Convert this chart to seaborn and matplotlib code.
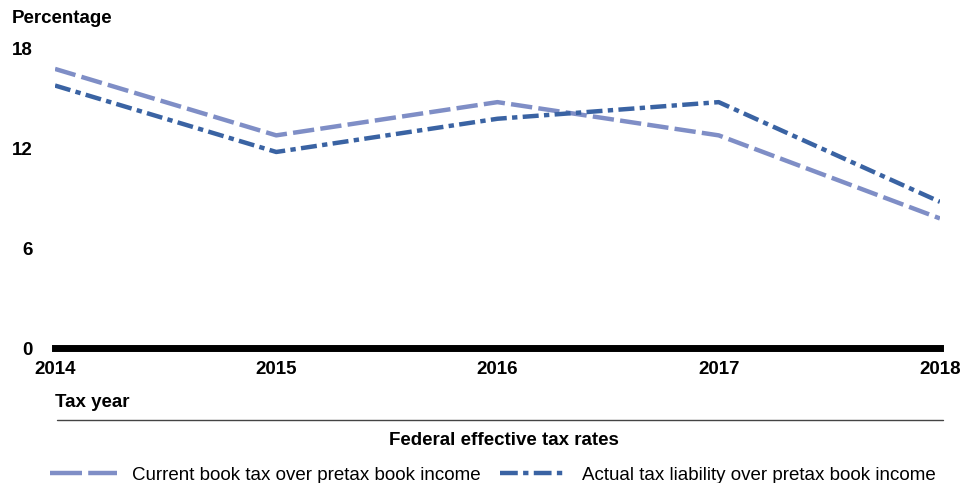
import numpy as np
import pandas as pd
import matplotlib
matplotlib.use('Agg')
import matplotlib.pyplot as plt
import seaborn as sns
from matplotlib.lines import Line2D

years = [2014, 2015, 2016, 2017, 2018]
current_book = [16.8, 12.8, 14.8, 12.8, 7.8]
actual_liability = [15.8, 11.8, 13.8, 14.8, 8.8]
series_names = ['Current book tax over pretax book income',
                'Actual tax liability over pretax book income']

df = pd.DataFrame({
    'year': years * 2,
    'rate': current_book + actual_liability,
    'series': [series_names[0]] * 5 + [series_names[1]] * 5,
})

sns.set_theme(style='white')
plt.rcParams['font.family'] = ['Liberation Sans', 'DejaVu Sans']
plt.rcParams['text.color'] = 'black'
plt.rcParams['xtick.color'] = 'black'
plt.rcParams['ytick.color'] = 'black'

colors = {series_names[0]: '#7f8ec6', series_names[1]: '#3a63a3'}
dashes = {series_names[0]: (4.8, 1.4), series_names[1]: (3.6, 1.2, 1.2, 1.2)}
leg_dashes = {series_names[0]: (7.2, 1.4), series_names[1]: (4.0, 1.2, 1.2, 1.2)}

fig = plt.figure(figsize=(9.72, 4.83), dpi=100)
ax = fig.add_axes([0.0566, 0.2795, 0.9104, 0.6191])
sns.lineplot(data=df, x='year', y='rate', hue='series', style='series',
             palette=colors, dashes=dashes, linewidth=3.2, legend=False, ax=ax)

ax.set_xlim(2014, 2018)
ax.set_ylim(0, 18)
ax.set_xticks(years)
ax.set_yticks([0, 6, 12, 18])
ax.set_xlabel('')
ax.set_ylabel('')
for s in ['top', 'right', 'left']:
    ax.spines[s].set_visible(False)
ax.spines['bottom'].set_linewidth(5)
ax.spines['bottom'].set_color('black')
ax.tick_params(axis='both', length=0, labelsize=13.5, labelcolor='black')
ax.tick_params(axis='x', pad=9)
ax.tick_params(axis='y', pad=16)
for lab in ax.get_xticklabels() + ax.get_yticklabels():
    lab.set_fontweight('bold')

fig.text(0.012, 0.962, 'Percentage', fontsize=13.5, fontweight='bold', va='center')
fig.text(0.057, 0.166, 'Tax year', fontsize=13.5, fontweight='bold', va='center')
fig.add_artist(Line2D([0.059, 0.970], [0.130, 0.130], color='#444444', linewidth=1))
fig.text(0.518, 0.089, 'Federal effective tax rates', fontsize=13.5, fontweight='bold',
         ha='center', va='center')

handles = [Line2D([], [], color=colors[n], linewidth=3.2, dashes=leg_dashes[n]) for n in series_names]
leg = fig.legend(handles, series_names, loc='center', bbox_to_anchor=(0.507, 0.016), ncol=2,
                 frameon=False, fontsize=13.5, handlelength=3.6, columnspacing=1.0, handletextpad=0.8)
for t in leg.get_texts():
    t.set_color('black')

plt.savefig('out.png', dpi=100)
